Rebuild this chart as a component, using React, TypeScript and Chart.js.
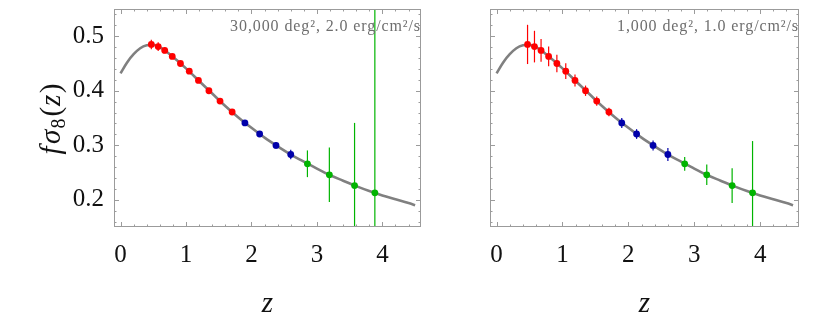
import React, { useEffect, useRef } from "react";
import { Chart, registerables } from "chart.js";
Chart.register(...registerables);

// ---- data ----
const redZ = [0.47, 0.575, 0.675, 0.79, 0.915, 1.05, 1.19, 1.35, 1.52, 1.705];
const redF = [0.485, 0.481, 0.474, 0.463, 0.45, 0.436, 0.419, 0.4, 0.381, 0.361];
const blueZ = [1.9, 2.125, 2.375, 2.6];
const blueF = [0.341, 0.3206, 0.2996, 0.283];
const greenZ = [2.855, 3.19, 3.575, 3.885];
const greenF = [0.266, 0.2458, 0.226, 0.2127];

// error bars, panel A (30,000 deg^2, 2.0 erg/cm^2/s)
const redErrA = [0.0088, 0.008, 0.005, 0.003, 0.003, 0.003, 0.003, 0.003, 0.003, 0.003];
const blueErrA = [0.004, 0.004, 0.006, 0.0086];
const greenErrA = [0.0245, 0.05, 0.115, 0.6];
// error bars, panel B (1,000 deg^2, 1.0 erg/cm^2/s)
const redErrB = [0.036, 0.029, 0.021, 0.018, 0.016, 0.0144, 0.011, 0.0095, 0.0083, 0.0077];
const blueErrB = [0.0092, 0.0089, 0.0092, 0.012];
const greenErrB = [0.0126, 0.0187, 0.032, 0.095];

// theory curve f sigma_8(z)
const curveZ = [0, 0.1, 0.2, 0.3, 0.4, 0.5, 0.6, 0.7, 0.8, 0.9, 1.0, 1.2, 1.4, 1.6, 1.8, 2.0, 2.2, 2.4, 2.6, 2.8, 3.0, 3.2, 3.4, 3.6, 3.8, 4.0, 4.2, 4.4, 4.5];
const curveF = [0.432, 0.452, 0.467, 0.478, 0.4835, 0.4845, 0.48, 0.472, 0.462, 0.452, 0.441, 0.418, 0.395, 0.372, 0.351, 0.332, 0.314, 0.298, 0.283, 0.27, 0.257, 0.245, 0.235, 0.225, 0.216, 0.208, 0.201, 0.194, 0.19];

const xTicks = [0, 1, 2, 3, 4];
const yTicks = [0.2, 0.3, 0.4, 0.5];
const labelA = "30,000 deg², 2.0 erg/cm²/s";
const labelB = "1,000 deg², 1.0 erg/cm²/s";

// ---- styles ----
const RED = "rgb(255,0,0)";
const BLUE = "rgb(0,0,170)";
const GREEN = "rgb(0,180,0)";
const CURVE = "rgb(128,128,128)";
const FRAME = "rgb(155,155,155)";
const SERIF = '"Liberation Serif", "Times New Roman", serif';

type PanelProps = {
  left: number;
  width: number;
  yAxisWidth: number;
  padRight: number;
  showYLabels: boolean;
  label: string;
  errs: number[][];
};

function zeroPad(s: any) {
  s.paddingTop = 0;
  s.paddingBottom = 0;
  s.paddingLeft = 0;
  s.paddingRight = 0;
}

function Panel(p: PanelProps) {
  const ref = useRef<HTMLCanvasElement | null>(null);
  useEffect(() => {
    const canvas = ref.current!;
    const groups = [
      { z: redZ, f: redF, c: RED, e: p.errs[0] },
      { z: blueZ, f: blueF, c: BLUE, e: p.errs[1] },
      { z: greenZ, f: greenF, c: GREEN, e: p.errs[2] },
    ];

    const errorPlugin = {
      id: "errbars",
      afterDatasetDraw(chart: any, args: any) {
        if (args.index !== 0) return;
        const { ctx, chartArea: a } = chart;
        const xs = chart.scales.x, ys = chart.scales.y;
        ctx.save();
        ctx.beginPath();
        ctx.rect(a.left, a.top, a.right - a.left, a.bottom - a.top);
        ctx.clip();
        ctx.lineWidth = 1.2;
        groups.forEach((g) => {
          ctx.strokeStyle = g.c;
          g.z.forEach((z, i) => {
            const x = xs.getPixelForValue(z);
            ctx.beginPath();
            ctx.moveTo(x, ys.getPixelForValue(g.f[i] + g.e[i]));
            ctx.lineTo(x, ys.getPixelForValue(g.f[i] - g.e[i]));
            ctx.stroke();
          });
        });
        ctx.restore();
      },
    };

    const framePlugin = {
      id: "frame",
      afterDatasetsDraw(chart: any) {
        const { ctx, chartArea: a } = chart;
        const xs = chart.scales.x, ys = chart.scales.y;
        ctx.save();
        ctx.strokeStyle = FRAME;
        ctx.lineWidth = 1;
        ctx.strokeRect(a.left + 0.5, a.top + 0.5, a.right - a.left - 1, a.bottom - a.top - 1);
        const xt: [number, number][] = [];
        for (let v = -0.2; v <= 4.6; v += 0.2) {
          const vv = Math.round(v * 10) / 10;
          if (vv < xs.min || vv > xs.max) continue;
          xt.push([vv, xTicks.includes(vv) ? 5 : 2.5]);
        }
        const yt: [number, number][] = [];
        for (let v = 0.14; v <= 0.56; v += 0.02) {
          const vv = Math.round(v * 100) / 100;
          if (vv < ys.min || vv > ys.max) continue;
          yt.push([vv, yTicks.some((t) => Math.abs(t - vv) < 1e-6) ? 5 : 2.5]);
        }
        ctx.beginPath();
        xt.forEach(([v, len]) => {
          const x = Math.round(xs.getPixelForValue(v)) + 0.5;
          ctx.moveTo(x, a.bottom);
          ctx.lineTo(x, a.bottom - len);
          ctx.moveTo(x, a.top);
          ctx.lineTo(x, a.top + len);
        });
        yt.forEach(([v, len]) => {
          const y = Math.round(ys.getPixelForValue(v)) + 0.5;
          ctx.moveTo(a.left, y);
          ctx.lineTo(a.left + len, y);
          ctx.moveTo(a.right, y);
          ctx.lineTo(a.right - len, y);
        });
        ctx.stroke();
        ctx.restore();
      },
    };

    const textPlugin = {
      id: "texts",
      afterDraw(chart: any) {
        const { ctx, chartArea: a } = chart;
        ctx.save();
        // annotation
        ctx.font = `16px ${SERIF}`;
        (ctx as any).letterSpacing = "0.9px";
        ctx.fillStyle = "rgb(110,110,110)";
        ctx.textAlign = "right";
        ctx.textBaseline = "alphabetic";
        ctx.fillText(p.label, a.right, a.top + 21.7);
        (ctx as any).letterSpacing = "0px";
        // x title
        ctx.fillStyle = "#111";
        ctx.textAlign = "center";
        ctx.font = `italic 29px ${SERIF}`;
        ctx.fillText("z", (a.left + a.right) / 2, 311.5);
        // y title
        if (p.showYLabels) {
          ctx.save();
          ctx.translate(60, (a.top + a.bottom) / 2 + 1);
          ctx.rotate(-Math.PI / 2);
          ctx.textAlign = "left";
          const parts = [
            { t: "f", f: `italic 29px ${SERIF}`, dy: 0, gap: 2.5 },
            { t: "σ", f: `italic 29px ${SERIF}`, dy: 0, gap: 1 },
            { t: "8", f: `20px ${SERIF}`, dy: 5, gap: 2 },
            { t: "(", f: `29px ${SERIF}`, dy: 0, gap: 1 },
            { t: "z", f: `italic 29px ${SERIF}`, dy: 0, gap: 1.5 },
            { t: ")", f: `29px ${SERIF}`, dy: 0, gap: 0 },
          ];
          let total = 0;
          parts.forEach((q) => {
            ctx.font = q.f;
            total += ctx.measureText(q.t).width + q.gap;
          });
          let x = -total / 2;
          parts.forEach((q) => {
            ctx.font = q.f;
            ctx.fillText(q.t, x, q.dy);
            x += ctx.measureText(q.t).width + q.gap;
          });
          ctx.restore();
        }
        ctx.restore();
      },
    };

    const tickFont = { family: SERIF, size: 25 };
    const chart = new Chart(canvas, {
      type: "scatter",
      data: {
        datasets: [
          {
            type: "line",
            data: curveZ.map((z, i) => ({ x: z, y: curveF[i] })),
            borderColor: CURVE,
            borderWidth: 2.6,
            pointRadius: 0,
            cubicInterpolationMode: "monotone",
            fill: false,
            order: 5,
          } as any,
          ...groups.map((g) => ({
            data: g.z.map((z, i) => ({ x: z, y: g.f[i] })),
            backgroundColor: g.c,
            borderWidth: 0,
            pointRadius: 3.4,
            order: 1,
          })),
        ],
      },
      options: {
        animation: false,
        responsive: false,
        devicePixelRatio: 1,
        layout: { padding: { left: 0, right: p.padRight, top: 9, bottom: 0 } },
        plugins: { legend: { display: false }, tooltip: { enabled: false } },
        scales: {
          x: {
            type: "linear",
            min: -0.1,
            max: 4.59,
            afterBuildTicks: (s: any) => {
              s.ticks = xTicks.map((v) => ({ value: v }));
            },
            afterFit: (s: any) => {
              s.height = 104;
              zeroPad(s);
            },
            grid: { display: false, drawTicks: false },
            border: { display: false },
            ticks: {
              font: tickFont,
              color: "#111",
              padding: 13,
              maxRotation: 0,
              autoSkip: false,
              callback: (v: any) => String(v),
            },
          },
          y: {
            type: "linear",
            min: 0.15,
            max: 0.55,
            afterBuildTicks: (s: any) => {
              s.ticks = yTicks.map((v) => ({ value: v }));
            },
            afterFit: (s: any) => {
              s.width = p.yAxisWidth;
              zeroPad(s);
            },
            grid: { display: false, drawTicks: false },
            border: { display: false },
            ticks: {
              display: p.showYLabels,
              font: tickFont,
              color: "#111",
              padding: 10,
              callback: (v: any) => Number(v).toFixed(1),
            },
          },
        },
      } as any,
      plugins: [errorPlugin, framePlugin, textPlugin],
    });
    return () => chart.destroy();
  }, []);
  return (
    <div style={{ position: "absolute", left: p.left, top: 0, width: p.width, height: 331 }}>
      <canvas ref={ref} width={p.width} height={331} style={{ display: "block" }} />
    </div>
  );
}

export default function App() {
  return (
    <div style={{ position: "absolute", left: 0, top: 0, width: 830, height: 331, background: "#fff" }}>
      <Panel left={0} width={425} yAxisWidth={114} padRight={2} showYLabels={true} label={labelA} errs={[redErrA, blueErrA, greenErrA]} />
      <Panel left={425} width={405} yAxisWidth={65} padRight={31} showYLabels={false} label={labelB} errs={[redErrB, blueErrB, greenErrB]} />
    </div>
  );
}
